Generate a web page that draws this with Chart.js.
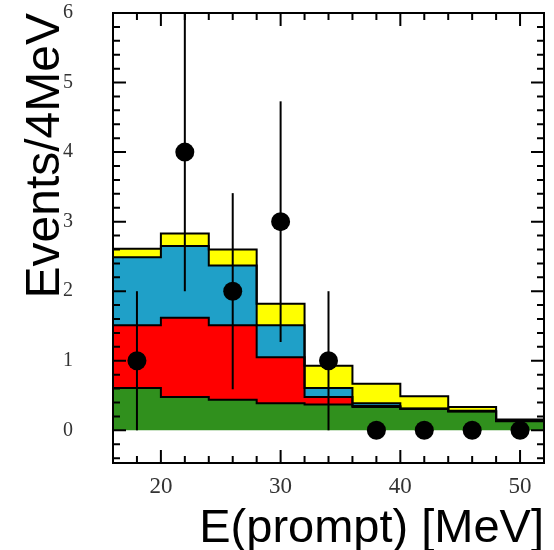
<!DOCTYPE html>
<html><head><meta charset="utf-8">
<script src="https://cdn.jsdelivr.net/npm/chart.js@4/dist/chart.umd.min.js"></script>
<style>html,body{margin:0;padding:0;background:#fff;}canvas{display:block;}</style>
</head><body>
<canvas id="c" width="554" height="550"></canvas>
<script>
// ---- data ----
const binEdges = [16, 20, 24, 28, 32, 36, 40, 44, 48, 52];
const binCenters = [18, 22, 26, 30, 34, 38, 42, 46, 50];
const greenBkg  = [0.61, 0.48, 0.44, 0.39, 0.37, 0.335, 0.305, 0.27, 0.13];
const redBkg    = [0.90, 1.14, 1.07, 0.66, 0.11, 0.015, 0.005, 0.005, 0.005];
const blueBkg   = [0.98, 1.03, 0.86, 0.46, 0.13, 0.04, 0.005, 0.005, 0.005];
const yellowBkg = [0.12, 0.18, 0.23, 0.31, 0.32, 0.28, 0.175, 0.055, 0.015];
const eventCounts = [1, 4, 2, 3, 1, 0, 0, 0, 0];
const eventErrors = [1, 2, 1.41, 1.73, 1, 0, 0, 0, 0];
const xTickLabels = [20, 30, 40, 50];
const yTickLabels = [0, 1, 2, 3, 4, 5, 6];

// cumulative stacks
function addArr(a, b) { return a.map((v, i) => v + b[i]); }
const cumGreen = greenBkg.slice();
const cumRed = addArr(cumGreen, redBkg);
const cumBlue = addArr(cumRed, blueBkg);
const cumYellow = addArr(cumBlue, yellowBkg);
function stepData(cum) {
  return binEdges.map((e, i) => ({ x: e, y: cum[Math.min(i, cum.length - 1)] }));
}
function layer(cum, color, fill, order) {
  return { data: stepData(cum), stepped: 'before', fill: fill, backgroundColor: color,
           borderColor: '#000', borderWidth: 2, pointRadius: 0, order: order };
}

const errorBarPlugin = {
  id: 'errorBars',
  beforeDatasetDraw(chart, args) {
    if (args.index !== 4) return;
    const { ctx, scales: { x, y } } = chart;
    ctx.save();
    ctx.strokeStyle = '#000';
    ctx.lineWidth = 2;
    binCenters.forEach((c, i) => {
      if (!eventErrors[i]) return;
      const px = x.getPixelForValue(c);
      ctx.beginPath();
      ctx.moveTo(px, y.getPixelForValue(Math.min(6, eventCounts[i] + eventErrors[i])));
      ctx.lineTo(px, y.getPixelForValue(Math.max(0, eventCounts[i] - eventErrors[i])));
      ctx.stroke();
    });
    ctx.restore();
  }
};

const framePlugin = {
  id: 'frame',
  afterDatasetsDraw(chart) {
    const { ctx, chartArea: a, scales: { x, y } } = chart;
    ctx.save();
    ctx.strokeStyle = '#000';
    ctx.lineWidth = 2;
    ctx.beginPath();
    // x ticks every 2 MeV, major every 10
    for (let v = 16; v <= 52; v += 2) {
      const px = x.getPixelForValue(v);
      const len = (v % 10 === 0) ? 13 : 7;
      ctx.moveTo(px, a.bottom); ctx.lineTo(px, a.bottom - len);
      ctx.moveTo(px, a.top); ctx.lineTo(px, a.top + len);
    }
    // y ticks every 0.2, major every 1
    for (let k = -2; k <= 30; k++) {
      const py = y.getPixelForValue(k / 5);
      const len = (k % 5 === 0) ? 13 : 7;
      ctx.moveTo(a.left, py); ctx.lineTo(a.left + len, py);
      ctx.moveTo(a.right, py); ctx.lineTo(a.right - len, py);
    }
    ctx.stroke();
    ctx.strokeRect(a.left, a.top, a.right - a.left, a.bottom - a.top);
    ctx.restore();
  }
};

const tickFont = { family: '"Liberation Serif", "Times New Roman", serif' };

new Chart(document.getElementById('c'), {
  type: 'line',
  data: {
    datasets: [
      layer(cumGreen, '#30901d', 'origin', 4),
      layer(cumRed, '#ff0000', '-1', 3),
      layer(cumBlue, '#1fa0c8', '-1', 2),
      layer(cumYellow, '#ffff00', '-1', 1),
      { data: binCenters.map((c, i) => ({ x: c, y: eventCounts[i] })), showLine: false,
        pointRadius: 9.5, pointBackgroundColor: '#000', pointBorderWidth: 0,
        pointBorderColor: '#000', fill: false, clip: false, order: 0 }
    ]
  },
  options: {
    responsive: false,
    animation: false,
    layout: { padding: { top: 13, right: 10, left: 0, bottom: 0 } },
    plugins: { legend: { display: false }, tooltip: { enabled: false },
               filler: { drawTime: 'beforeDatasetsDraw' } },
    scales: {
      x: {
        type: 'linear', min: 16, max: 52,
        grid: { display: false }, border: { display: false },
        afterBuildTicks: s => { s.ticks = xTickLabels.map(v => ({ value: v })); },
        afterFit: s => { s.height = 87; s.paddingLeft = 0; s.paddingRight = 0; },
        ticks: { font: { ...tickFont, size: 23 }, color: '#333', padding: 2, maxRotation: 0, autoSkip: false },
        title: { display: true, text: 'E(prompt) [MeV]', align: 'end', color: '#000',
                 font: { family: '"Liberation Sans", Arial, sans-serif', size: 47, lineHeight: 0.9 },
                 padding: { top: 0, bottom: 0 } }
      },
      y: {
        type: 'linear', min: -0.47, max: 6,
        grid: { display: false }, border: { display: false },
        afterBuildTicks: s => { s.ticks = yTickLabels.map(v => ({ value: v })); },
        afterFit: s => { s.width = 113; s.paddingTop = 0; s.paddingBottom = 0; },
        ticks: { font: { ...tickFont, size: 20 }, color: '#333', padding: 32 },
        title: { display: true, text: 'Events/4MeV', align: 'end', color: '#000',
                 font: { family: '"Liberation Sans", Arial, sans-serif', size: 48, lineHeight: 1.2 },
                 padding: { top: 17, bottom: 0 } }
      }
    }
  },
  plugins: [errorBarPlugin, framePlugin]
});
</script>
</body></html>
